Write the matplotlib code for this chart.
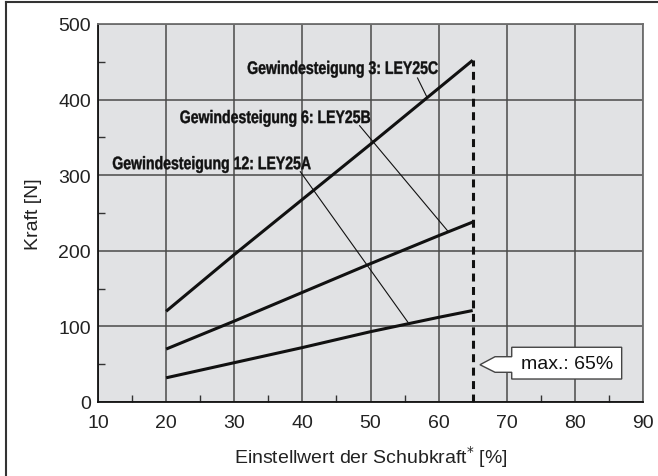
import numpy as np
import matplotlib
matplotlib.use("Agg")
import matplotlib.pyplot as plt
from matplotlib.patches import Polygon, PathPatch
from matplotlib.lines import Line2D
from matplotlib.textpath import TextPath
from matplotlib.font_manager import FontProperties
from matplotlib.transforms import Affine2D, ScaledTranslation

# Einstellwert der Schubkraft [%]
x_pct = [20, 30, 40, 50, 60, 65]
# Kraft [N] je Gewindesteigung
kraft_3 = [120, 195, 268, 341, 415, 452]
kraft_6 = [70, 107, 145, 183, 220, 238]
kraft_12 = [32, 52, 72, 93, 112, 121]
max_pct = 65

labels = ["Gewindesteigung 3: LEY25C", "Gewindesteigung 6: LEY25B", "Gewindesteigung 12: LEY25A"]

plt.rcParams['font.family'] = ['Liberation Sans', 'DejaVu Sans']
FS = 14

fig = plt.figure(figsize=(6.58, 4.77), dpi=100)
ax = fig.add_axes([98/658, 1-403/477, 545/658, 378/477])
ax.set_facecolor('#e1e2e4')

ax.set_xlim(10, 90)
ax.set_ylim(0, 500)
ax.set_xticks(np.arange(10, 91, 10))
ax.set_yticks(np.arange(0, 501, 100))
ax.set_xticks(np.arange(15, 90, 10), minor=True)
ax.set_yticks(np.arange(50, 500, 100), minor=True)
ax.grid(True, which='major', color='#4a4a4a', lw=1.1)
ax.set_axisbelow(True)
ax.tick_params(which='both', direction='in', length=0, labelsize=FS, colors='#222222')
ax.tick_params(axis='x', pad=9)
ax.tick_params(axis='y', pad=5)
ax.tick_params(which='minor', length=5, width=1, color='#333333')
for s in ['left', 'bottom']:
    ax.spines[s].set_color('#111111')
    ax.spines[s].set_linewidth(1.3)
for s in ['top', 'right']:
    ax.spines[s].set_color('#6e6e6e')
    ax.spines[s].set_linewidth(1.3)

for y in [kraft_3, kraft_6, kraft_12]:
    ax.plot(x_pct, y, color='#111111', lw=2.2, solid_capstyle='butt', zorder=3)

ax.plot([max_pct, max_pct], [0, kraft_3[-1]], color='#111111', lw=2.2,
        ls=(0, (2.6, 1.8)), zorder=3)

# schmale fette Beschriftung (horizontal gestaucht)
bold_fp = FontProperties(family='Liberation Sans', weight='bold')


def narrow_text(x, y, s, size=13, squeeze=0.78):
    tp = TextPath((0, 0), s, size=size, prop=bold_fp)
    tr = (Affine2D().scale(squeeze / 72, 1 / 72) + fig.dpi_scale_trans
          + ScaledTranslation(x, y, ax.transData))
    ax.add_patch(PathPatch(tp, transform=tr, fc='#111111', ec='#111111', lw=0.3, zorder=5))


narrow_text(31.9, 434, labels[0])
narrow_text(22.0, 369, labels[1])
narrow_text(12.1, 308, labels[2])

# Bezugslinien
ax.plot([56.9, 58.3], [428.6, 403], color='#111111', lw=0.8, zorder=3)
ax.plot([48.4, 61.3], [365.5, 226.6], color='#111111', lw=0.8, zorder=3)
ax.plot([39.7, 55.5], [304.6, 105.4], color='#111111', lw=0.8, zorder=3)

# Hinweisfeld
callout = Polygon([(70.73, 72.4), (86.87, 72.4), (86.87, 30.4), (70.73, 30.4),
                   (70.73, 39.3), (68.28, 39.3), (66.07, 49.3), (68.28, 59.9),
                   (70.73, 59.9)], closed=True, fc='white', ec='#444444', lw=1.0, zorder=4)
ax.add_patch(callout)
ax.text(78.9, 51.5, "max.: 65%", fontsize=FS, ha='center', va='center', color='#111111', zorder=5)

ax.set_ylabel("Kraft [N]", fontsize=FS, color='#222222', labelpad=12)
ax.set_xlabel("Einstellwert der Schubkraft$^{*}$ [%]", fontsize=FS, color='#222222', labelpad=8)

# Rahmen
fig.add_artist(Line2D([6/658, 1], [1-3/477, 1-3/477], color='#333333', lw=1.5, transform=fig.transFigure))
fig.add_artist(Line2D([6/658, 6/658], [0, 1-3/477], color='#333333', lw=1.5, transform=fig.transFigure))

fig.savefig("out.png", dpi=100)
